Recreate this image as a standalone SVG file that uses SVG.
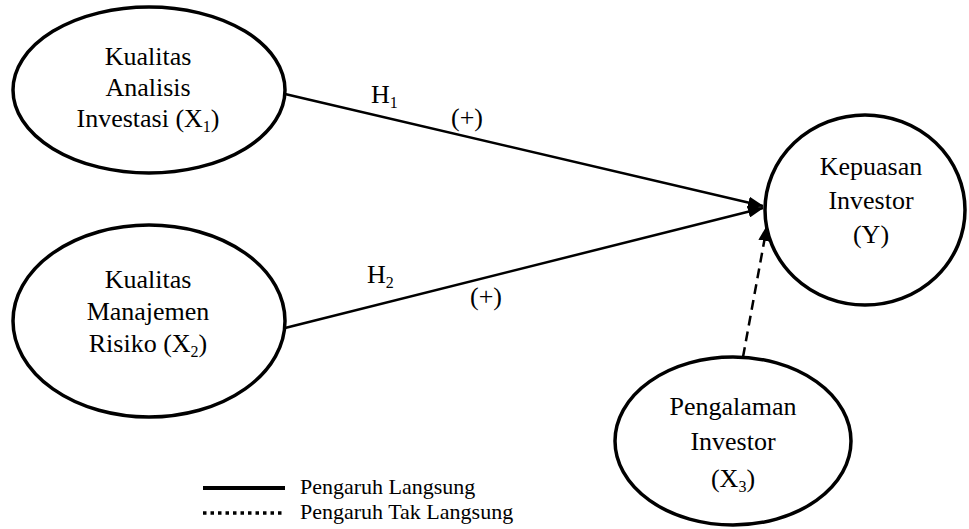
<svg xmlns="http://www.w3.org/2000/svg" width="969" height="529" viewBox="0 0 969 529">
<style>
.n{fill:#fff;stroke:#000;stroke-width:3.5}
.t{font-family:"Liberation Serif","DejaVu Serif",serif;font-size:26px;fill:#000;text-anchor:middle}
.l{font-family:"Liberation Serif","DejaVu Serif",serif;font-size:26px;fill:#000}
.g{font-family:"Liberation Serif","DejaVu Serif",serif;font-size:22px;fill:#000}
.s{font-size:16px}
.c{stroke:#000;stroke-width:2.5;fill:none}
</style>
<defs>
<marker id="ah" markerWidth="16" markerHeight="12" refX="15" refY="6" orient="auto" markerUnits="userSpaceOnUse">
<path d="M0,0 L16,6 L0,12 Z" fill="#000"/>
</marker>
</defs>
<g id="connectors">
<line class="c" x1="285" y1="94" x2="763" y2="206" marker-end="url(#ah)"/>
<line class="c" x1="285" y1="328" x2="763" y2="208" marker-end="url(#ah)"/>
<line class="c" x1="743" y1="357" x2="767" y2="226" stroke-dasharray="10,6" marker-end="url(#ah)"/>
</g>
<g id="x1">
<ellipse class="n" cx="149" cy="90" rx="136" ry="83"/>
<text class="t" x="148" y="65">Kualitas</text>
<text class="t" x="148" y="96">Analisis</text>
<text class="t" x="148" y="127">Investasi (X<tspan class="s" dy="5">1</tspan><tspan dy="-5">)</tspan></text>
</g>
<g id="x2">
<ellipse class="n" cx="149" cy="321" rx="136" ry="96"/>
<text class="t" x="148" y="288">Kualitas</text>
<text class="t" x="148" y="320">Manajemen</text>
<text class="t" x="148" y="352">Risiko (X<tspan class="s" dy="5">2</tspan><tspan dy="-5">)</tspan></text>
</g>
<g id="y">
<ellipse class="n" cx="865" cy="210" rx="100" ry="95"/>
<text class="t" x="871" y="175">Kepuasan</text>
<text class="t" x="871" y="209">Investor</text>
<text class="t" x="871" y="243">(Y)</text>
</g>
<g id="x3">
<ellipse class="n" cx="733" cy="441" rx="118" ry="84"/>
<text class="t" x="733" y="415">Pengalaman</text>
<text class="t" x="733" y="450">Investor</text>
<text class="t" x="733" y="487">(X<tspan class="s" dy="5">3</tspan><tspan dy="-5">)</tspan></text>
</g>
<g id="labels">
<text class="l" x="371" y="103">H<tspan class="s" dy="5">1</tspan></text>
<text class="t" x="467" y="126" font-size="24">(+)</text>
<text class="l" x="367" y="283">H<tspan class="s" dy="5">2</tspan></text>
<text class="t" x="486" y="305" font-size="24">(+)</text>
</g>
<g id="legend">
<line x1="203" y1="488" x2="285" y2="488" stroke="#000" stroke-width="4"/>
<line x1="203" y1="513" x2="285" y2="513" stroke="#000" stroke-width="3.5" stroke-dasharray="3.5,4"/>
<text class="g" x="300" y="494">Pengaruh Langsung</text>
<text class="g" x="300" y="519">Pengaruh Tak Langsung</text>
</g>
</svg>
